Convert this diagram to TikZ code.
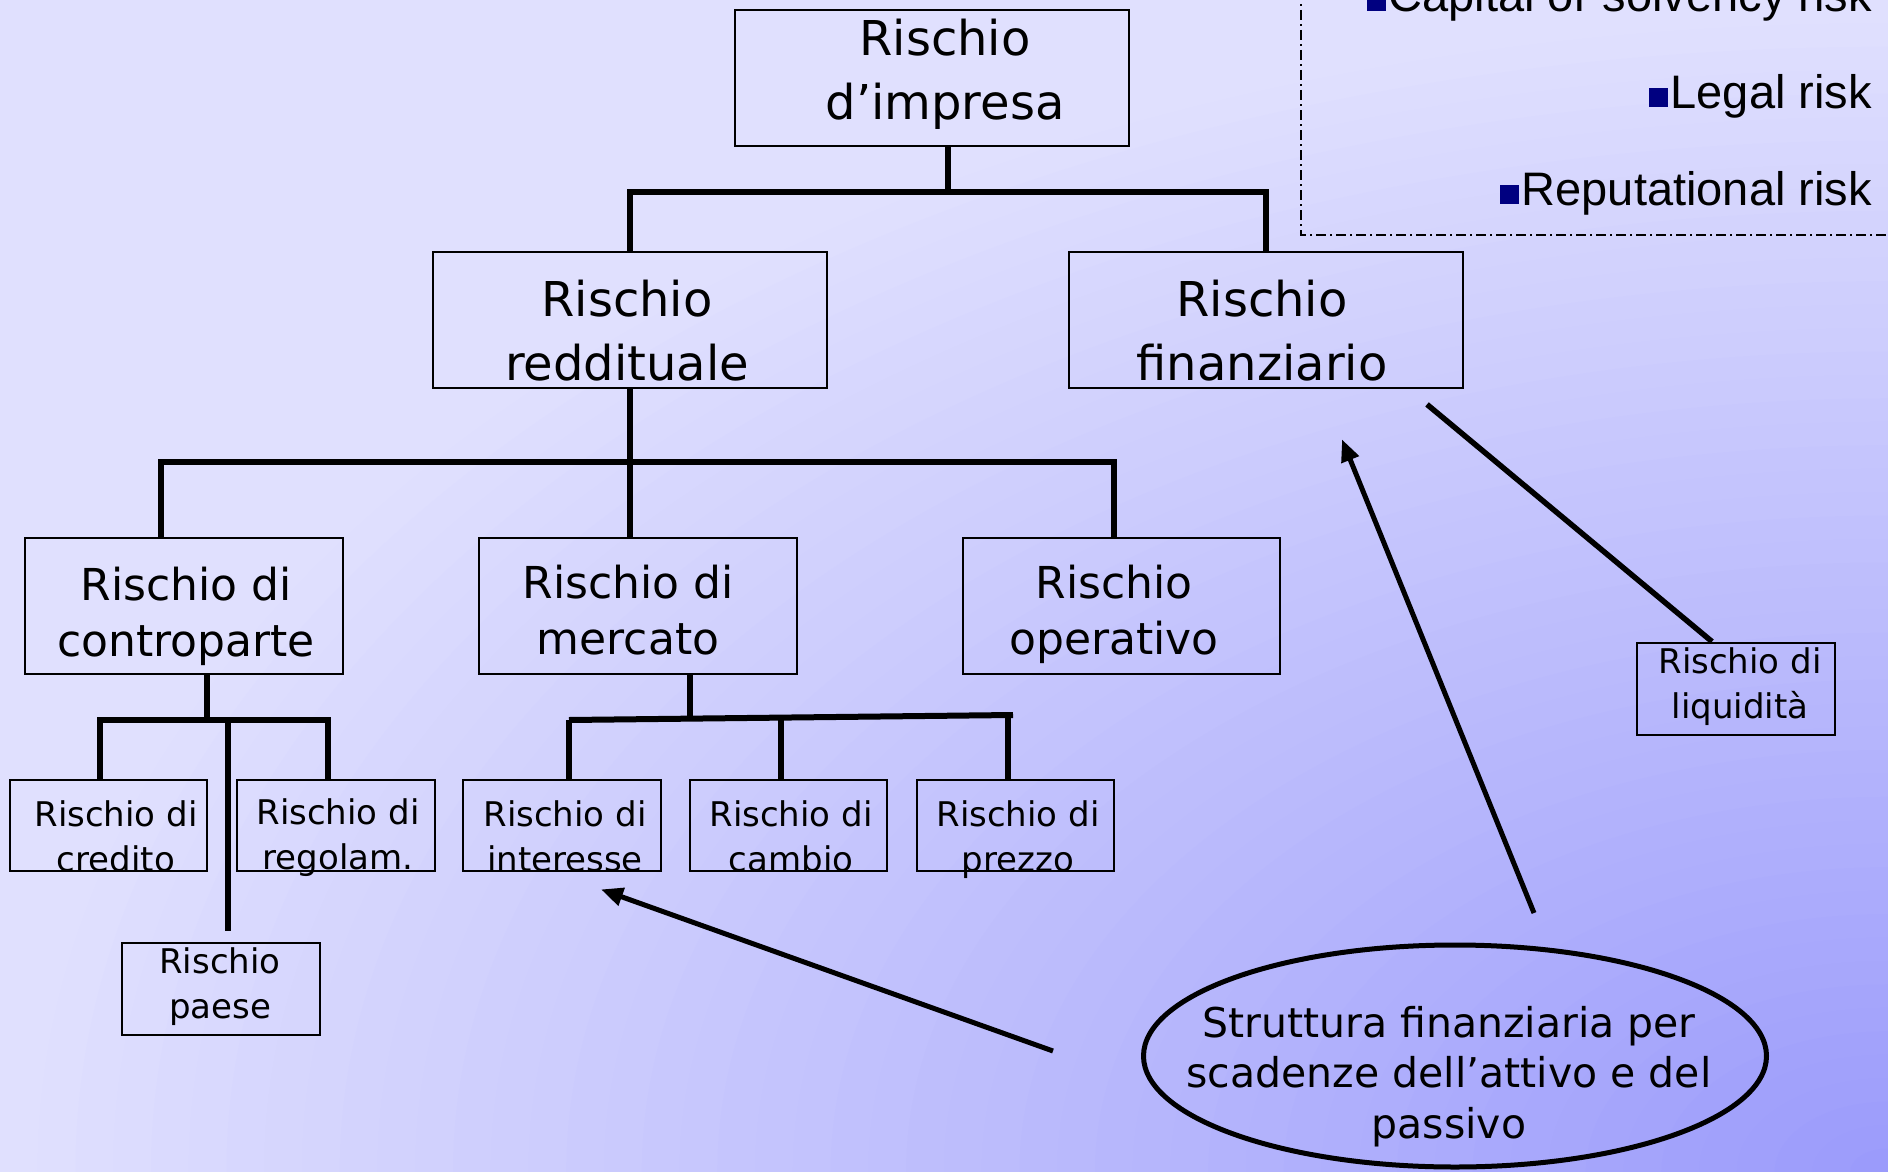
\documentclass[tikz,border=0pt]{standalone}
\usepackage{fontspec}
\newfontfamily\cfont{DejaVu Sans}
\newfontfamily\afont{Liberation Sans}
\usetikzlibrary{arrows.meta,calc,shapes.geometric}
\definecolor{navyb}{RGB}{0,0,128}
\definecolor{bga}{RGB}{154,154,251}
\definecolor{bge}{RGB}{224,224,254}
\tikzset{
  box/.style={draw, rectangle, line width=2.8pt, inner sep=0pt},
  conn/.style={line width=6pt, line join=miter},
  arr/.style={line width=5pt, -{Triangle[length=22pt,width=18pt]}},
  bigtxt/.style={anchor=base, align=center, inner sep=0pt, font=\cfont\fontsize{48}{64}\selectfont},
  midtxt/.style={anchor=base, align=center, inner sep=0pt, font=\cfont\fontsize{44}{56}\selectfont},
  smalltxt/.style={anchor=base, align=center, inner sep=0pt, font=\cfont\fontsize{34}{45}\selectfont},
  elltxt/.style={anchor=base, align=center, inner sep=0pt, font=\cfont\fontsize{41}{50.5}\selectfont},
  risktxt/.style={anchor=base east, inner sep=0pt, font=\afont\fontsize{47}{56}\selectfont},
}
\newcommand{\sqbul}{\textcolor{navyb}{\rule[1pt]{19pt}{19pt}}\hspace{3pt}}
\begin{document}
\begin{tikzpicture}[x=1pt,y=-1pt]
\useasboundingbox (0,0) rectangle (1888,1172);
\begin{scope}
\clip (0,0) rectangle (1888,1172);
\fill[bge] (0,0) rectangle (1888,1172);
\foreach \k [evaluate=\k as \pc using int(2*\k), evaluate=\k as \rx using 37.76*\k, evaluate=\k as \ry using 23.44*\k] in {50,49,...,1}
  \fill[bge!\pc!bga] (1888,1172) ellipse [x radius=\rx pt, y radius=\ry pt];

% dash-dot frame top right
\draw[line width=2.2pt, dash pattern=on 10pt off 4pt on 2pt off 4pt] (1301,-10) -- (1301,235) -- (1900,235);
\node[risktxt] (cap) at (1872,12) {\sqbul Capital or solvency risk};
\node[risktxt] (legal) at (1872,108) {\sqbul Legal risk};
\node[risktxt] (rep) at (1872,205) {\sqbul Reputational risk};

% boxes
\node[box, minimum width=394pt, minimum height=136pt] (impresa) at (932,78) {};
\node[box, minimum width=394pt, minimum height=136pt] (redd) at (630,320) {};
\node[box, minimum width=394pt, minimum height=136pt] (fin) at (1266,320) {};
\node[box, minimum width=318pt, minimum height=136pt] (cp) at (184,606) {};
\node[box, minimum width=318pt, minimum height=136pt] (merc) at (638,606) {};
\node[box, minimum width=317pt, minimum height=136pt] (oper) at (1121.5,606) {};
\node[box, minimum width=197pt, minimum height=91pt] (cred) at (108.5,825.5) {};
\node[box, minimum width=198pt, minimum height=91pt] (reg) at (336,825.5) {};
\node[box, minimum width=198pt, minimum height=92pt] (paese) at (221,989) {};
\node[box, minimum width=198pt, minimum height=91pt] (inter) at (562,825.5) {};
\node[box, minimum width=197pt, minimum height=91pt] (camb) at (788.5,825.5) {};
\node[box, minimum width=197pt, minimum height=91pt] (prez) at (1015.5,825.5) {};
\node[box, minimum width=198pt, minimum height=92pt] (liq) at (1736,689) {};
\node[draw, ellipse, line width=5pt, minimum width=623pt, minimum height=222pt, inner sep=0pt] (struct) at (1455,1056) {};

% texts (anchor = baseline of last line)
\node[bigtxt] (t-impresa) at (945,119) {Rischio\\d’impresa};
\node[bigtxt] (t-redd) at (627,380) {Rischio\\reddituale};
\node[bigtxt] (t-fin) at (1262,380) {Rischio\\finanziario};
\node[midtxt] (t-cp) at (186,656) {Rischio di\\controparte};
\node[midtxt] (t-merc) at (628,654) {Rischio di\\mercato};
\node[midtxt] (t-oper) at (1114,654) {Rischio\\operativo};
\node[smalltxt] (t-cred) at (116,871) {Rischio di\\credito};
\node[smalltxt] (t-reg) at (338,869) {Rischio di\\regolam.};
\node[smalltxt] (t-paese) at (220,1018) {Rischio\\paese};
\node[smalltxt] (t-inter) at (565,871) {Rischio di\\interesse};
\node[smalltxt] (t-camb) at (791,871) {Rischio di\\cambio};
\node[smalltxt] (t-prez) at (1018,871) {Rischio di\\prezzo};
\node[smalltxt] (t-liq) at (1740,718) {Rischio di\\liquidità};
\node[elltxt] (t-struct) at (1449,1138) {Struttura finanziaria per\\scadenze dell’attivo e del\\passivo};

% connectors level 1 -> 2
\coordinate (bar1) at (0,192);
\coordinate (imS) at ([xshift=16pt]impresa.south);
\draw[conn] (imS) -- (imS |- bar1);
\draw[conn] (redd.north) -- (redd.north |- bar1) -- (fin.north |- bar1) -- (fin.north);

% level 2 -> 3
\coordinate (bar2) at (0,462);
\coordinate (cpN) at ([xshift=-23pt]cp.north);
\coordinate (opN) at ([xshift=-7.5pt]oper.north);
\coordinate (meN) at ([xshift=-8pt]merc.north);
\draw[conn] (redd.south) -- (meN);
\draw[conn] (cpN) -- (cpN |- bar2) -- (opN |- bar2) -- (opN);

% level 3 -> 4 (controparte)
\coordinate (bar3) at (0,720);
\coordinate (cpS) at ([xshift=23pt]cp.south);
\coordinate (crN) at ([xshift=-8.5pt]cred.north);
\coordinate (rgN) at ([xshift=-8pt]reg.north);
\coordinate (paN) at ([xshift=7pt,yshift=11pt]paese.north);
\draw[conn] (cpS) -- (cpS |- bar3);
\draw[conn] (crN) -- (crN |- bar3) -- (rgN |- bar3) -- (rgN);
\draw[conn] (paN |- bar3) -- (paN);

% level 3 -> 4 (mercato)
\coordinate (meS) at ([xshift=52pt]merc.south);
\coordinate (b3L) at (569,720);
\coordinate (b3R) at (1013,715);
\coordinate (inN) at ([xshift=7pt]inter.north);
\coordinate (caN) at ([xshift=-7.5pt]camb.north);
\coordinate (prN) at ([xshift=-7.5pt]prez.north);
\draw[conn] (meS) -- (meS |- 0,719);
\draw[conn] (b3L) -- (b3R);
\draw[conn] (b3L) -- (inN);
\draw[conn] (caN |- 0,718) -- (caN);
\draw[conn] (prN |- 0,717) -- (prN);

% arrows
\coordinate (a1s) at (1053,1051);
\coordinate (a2s) at (1534,913);
\draw[arr] (a1s) -- ([xshift=39pt,yshift=-17pt]inter.south);
\draw[arr] (a2s) -- ([xshift=76pt,yshift=-50pt]fin.south);
\draw[line width=5.5pt] ([xshift=161pt,yshift=-15pt]fin.south) -- ([xshift=-24pt]liq.north);
\end{scope}
\end{tikzpicture}
\end{document}
